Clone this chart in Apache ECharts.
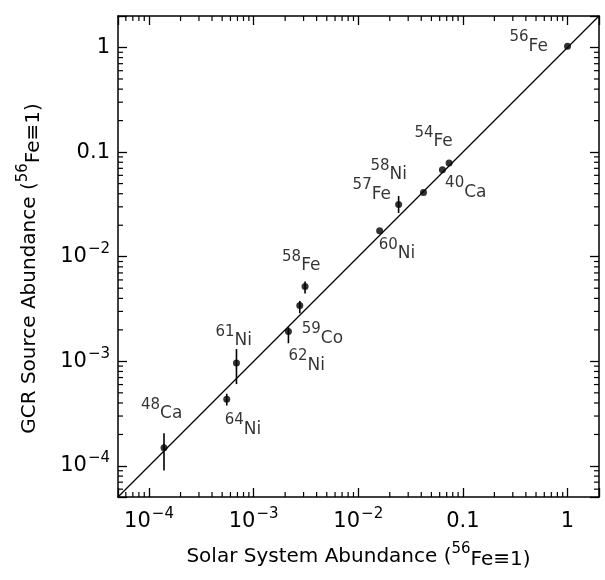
<!DOCTYPE html>
<html>
<head>
<meta charset="utf-8">
<script src="https://cdn.jsdelivr.net/npm/echarts@6/dist/echarts.min.js"></script>
<style>
html,body{margin:0;padding:0;background:#fff;}
#chart{width:605px;height:580px;}
</style>
</head>
<body>
<div id="chart"></div>
<script>
// ---- data ----
const massNumbers = ['56','40','54','58','57','60','58','59','62','61','64','48'];
const elements    = ['Fe','Ca','Fe','Ni','Fe','Ni','Fe','Co','Ni','Ni','Ni','Ca'];
const solarAbundance = [1.0, 0.0738, 0.0637, 0.042, 0.0243, 0.016, 0.0031, 0.00276, 0.00215, 0.000685, 0.000553, 0.000139];
const gcrAbundance   = [1.03, 0.0785, 0.0679, 0.041, 0.0315, 0.0177, 0.00518, 0.00341, 0.00193, 0.000966, 0.000433, 0.000149];
const gcrLow  = [null, null, null, null, 0.0262, null, 0.00446, 0.00288, 0.00149, 0.000606, 0.000378, 0.0000906];
const gcrHigh = [null, null, null, null, 0.0381, null, 0.0058, 0.00378, 0.00212, 0.00131, 0.00049, 0.000205];
const axisRange = [5.05e-5, 2.0];
const tickValues = [1e-4, 1e-3, 1e-2, 0.1, 1];
const tickLabels = ['{b|10}{s|\u22124}', '{b|10}{s|\u22123}', '{b|10}{s|\u22122}', '{b|0.1}', '{b|1}'];
const minorMultipliers = [2, 3, 4, 5, 6, 7, 8, 9];
const xTitle = '{t|Solar System Abundance (}{s|56}{e|Fe\u22611)}';
const yTitle = '{t|GCR Source Abundance (}{s|56}{e|Fe\u22611)}';

// ---- layout / style (not data) ----
const labelOffsets = [[-58,0],[-4,29],[-28,-28],[-53,-18],[-46,-10],[-1,23],[-23,-21],[2,33],[0,34],[-21,-22],[-2,30],[-23,-34]];
const FONT = 'DejaVu Sans';
const INK = '#000';

const minorTicks = [];
for (let d = -5; d <= 0; d++) {
  minorMultipliers.forEach(m => {
    const v = m * Math.pow(10, d);
    if (v > axisRange[0] && v < axisRange[1]) minorTicks.push([v, v]);
  });
}

function tickFormatter(v) {
  const lv = Math.log10(v);
  for (let i = 0; i < tickValues.length; i++) {
    if (Math.abs(lv - Math.log10(tickValues[i])) < 1e-6) return tickLabels[i];
  }
  return '';
}

const tickRich = {
  b: {fontFamily: FONT, fontSize: 21, color: INK, lineHeight: 24},
  s: {fontFamily: FONT, fontSize: 15, color: INK, lineHeight: 15, padding: [0, 0, 15, 1]}
};
const titleRich = {
  t: {fontFamily: FONT, fontSize: 20, color: INK, lineHeight: 24},
  s: {fontFamily: FONT, fontSize: 15, color: INK, lineHeight: 15, padding: [0, 0, 14, 0]},
  e: {fontFamily: FONT, fontSize: 20, color: INK, lineHeight: 24, padding: [7, 0, 0, 0]}
};

function logAxis(pos, showLabels, extra) {
  return Object.assign({
    type: 'log', logBase: 10, position: pos,
    min: axisRange[0], max: axisRange[1], splitNumber: 5,
    axisLine: {show: true, onZero: false, lineStyle: {color: INK, width: 1.5}},
    axisTick: {show: true, inside: true, length: 9, lineStyle: {color: INK, width: 1.3}},
    minorTick: {show: false},
    splitLine: {show: false},
    axisLabel: {show: showLabels, formatter: tickFormatter, rich: tickRich, margin: 8, showMinLabel: true, showMaxLabel: true}
  }, extra || {});
}

const scatterData = solarAbundance.map((x, i) => ({
  value: [x, gcrAbundance[i]],
  label: {
    formatter: '{s|' + massNumbers[i] + '}{e|' + elements[i] + '}',
    offset: labelOffsets[i]
  }
}));

const errorData = [];
solarAbundance.forEach((x, i) => {
  if (gcrLow[i] != null) errorData.push([x, gcrAbundance[i], gcrLow[i], gcrHigh[i]]);
});

const chart = echarts.init(document.getElementById('chart'), null, {renderer: 'canvas'});
const bottomAxis = logAxis('bottom', true, {
  name: xTitle, nameLocation: 'middle', nameGap: 44,
  nameTextStyle: {rich: titleRich}
});
bottomAxis.axisLabel.margin = 13;
chart.setOption({
  animation: false,
  backgroundColor: '#fff',
  grid: {left: 118, right: 6, top: 16, bottom: 83, containLabel: false},
  xAxis: [
    bottomAxis,
    logAxis('top', false)
  ],
  yAxis: [
    logAxis('left', true, {
      name: yTitle, nameLocation: 'middle', nameGap: 76, nameRotate: 90,
      nameTextStyle: {rich: titleRich, padding: [0, 24, 0, 0]}
    }),
    logAxis('right', false)
  ],
  series: [
    {
      type: 'line', xAxisIndex: 0, yAxisIndex: 0,
      data: [[axisRange[0], axisRange[0]], [axisRange[1], axisRange[1]]],
      symbol: 'none', lineStyle: {color: INK, width: 1.3}, z: 2, silent: true
    },
    {
      type: 'custom', xAxisIndex: 0, yAxisIndex: 0,
      data: errorData, z: 3, silent: true,
      encode: {x: 0, y: 1},
      renderItem: function (params, api) {
        const p1 = api.coord([api.value(0), api.value(2)]);
        const p2 = api.coord([api.value(0), api.value(3)]);
        return {type: 'line', shape: {x1: p1[0], y1: p1[1], x2: p2[0], y2: p2[1]},
                style: {stroke: INK, lineWidth: 1.6}};
      }
    },
    {
      type: 'custom', xAxisIndex: 0, yAxisIndex: 0,
      data: minorTicks, z: 4, silent: true,
      encode: {x: 0, y: 1},
      renderItem: function (params, api) {
        const v = api.value(0);
        const b = api.coord([v, axisRange[0]]);
        const t = api.coord([v, axisRange[1]]);
        const l = api.coord([axisRange[0], v]);
        const r = api.coord([axisRange[1], v]);
        const L = 5, st = {stroke: INK, lineWidth: 1.2};
        return {type: 'group', children: [
          {type: 'line', shape: {x1: b[0], y1: b[1], x2: b[0], y2: b[1] - L}, style: st},
          {type: 'line', shape: {x1: t[0], y1: t[1], x2: t[0], y2: t[1] + L}, style: st},
          {type: 'line', shape: {x1: l[0], y1: l[1], x2: l[0] + L, y2: l[1]}, style: st},
          {type: 'line', shape: {x1: r[0], y1: r[1], x2: r[0] - L, y2: r[1]}, style: st}
        ]};
      }
    },
    {
      type: 'scatter', xAxisIndex: 0, yAxisIndex: 0,
      data: scatterData, symbol: 'circle', symbolSize: 7, z: 5,
      itemStyle: {color: '#000'},
      label: {
        show: true, position: 'inside', align: 'left', verticalAlign: 'middle',
        rich: {
          s: {fontFamily: FONT, fontSize: 15, color: INK, lineHeight: 15, padding: [0, 0, 18, 0]},
          e: {fontFamily: FONT, fontSize: 17, color: INK, lineHeight: 20}
        }
      },
      emphasis: {disabled: true}
    }
  ]
});
</script>
</body>
</html>
